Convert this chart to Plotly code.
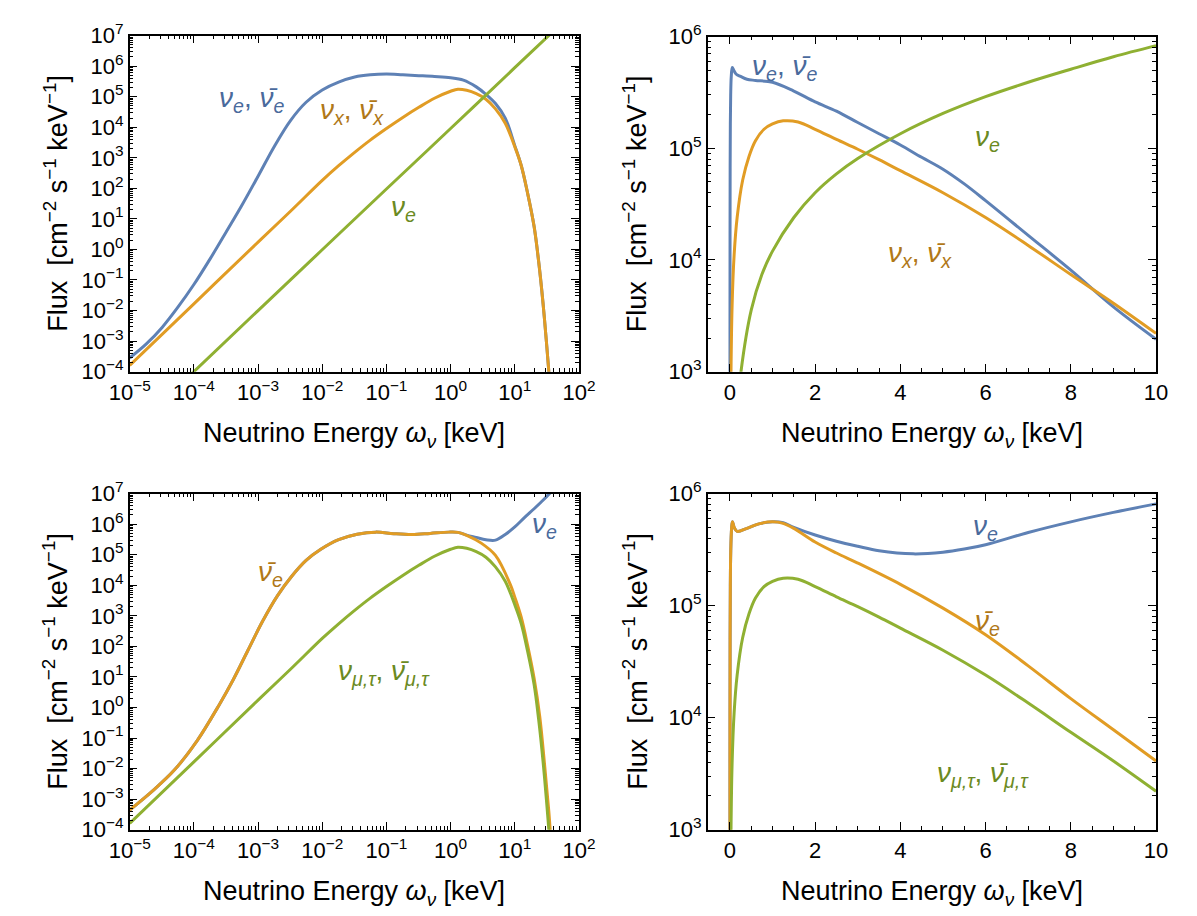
import plotly.graph_objects as go

# ---------------- data ----------------
# Top-left panel (log-log): nu_e + nubar_e (blue)
tl_blue_E = [1e-5, 1.8e-5, 3.2e-5, 5.6e-5, 1e-4, 1.8e-4, 3.2e-4, 5.6e-4, 1e-3, 1.8e-3, 3.2e-3, 5.6e-3,
             0.01, 0.018, 0.032, 0.056, 0.1, 0.18, 0.32, 0.56, 1.0, 1.58, 2.51, 3.55, 5.0, 7.1,
             10, 12.6, 15.8, 20, 23.4, 27.5, 31.6, 33.9, 36.3]
tl_blue_F = [2.8e-4, 7.9e-4, 2.8e-3, 1.26e-2, 7.1e-2, 0.5, 3.8, 28, 250, 2.4e3, 1.66e4, 6.6e4,
             1.66e5, 3.0e5, 4.4e5, 5.2e5, 5.5e5, 5.2e5, 4.9e5, 4.6e5, 4.2e5, 3.5e5, 2.1e5, 1.2e5, 6.0e4, 2.0e4,
             2.5e3, 560, 71, 5.6, 0.45, 1.8e-2, 6.3e-4, 1e-4, 1.6e-5]

# nu_x / nu_mu,tau on log axes (TL orange, BL green)
nux_log_E = [1e-5, 1e-4, 1e-3, 3.2e-3, 0.01, 0.018, 0.032, 0.056, 0.1, 0.18, 0.32, 0.56, 1.0, 1.3, 1.78,
             2.51, 3.55, 5.0, 7.1, 10, 12.6, 15.8, 20, 23.4, 27.5, 31.6, 33.9, 36.3]
nux_log_F = [1.6e-4, 1.66e-2, 1.74, 17.8, 182, 550, 1.51e3, 3.8e3, 9.1e3, 2.1e4, 4.5e4, 8.9e4, 1.51e5,
             1.76e5, 1.62e5, 1.26e5, 8.3e4, 4.0e4, 1.35e4, 2.3e3, 560, 71, 5.6, 0.45, 1.8e-2, 6.3e-4, 1e-4,
             1.6e-5]

# nu_e rising component (TL green)
tl_green_E = [8e-5, 1e-3, 1e-1, 1, 10, 40]
tl_green_F = [6.4e-5, 1e-2, 95, 9.1e3, 8.9e5, 1.4e7]

# Top-right panel (linear energy)
tr_blue_E = [0.001, 0.0018, 0.0032, 0.0056, 0.01, 0.018, 0.032, 0.056, 0.09, 0.15, 0.25, 0.4, 0.6, 1.0,
             1.5, 2, 2.5, 3, 3.5, 4, 4.5, 5, 5.5, 6, 7, 8, 9, 10]
tr_blue_F = [2.5e2, 2.4e3, 1.66e4, 6.6e4, 1.66e5, 3.0e5, 4.4e5, 5.3e5, 5.0e5, 4.6e5, 4.4e5, 4.15e5, 4.05e5, 3.9e5,
             3.25e5, 2.6e5, 2.15e5, 1.7e5, 1.35e5, 1.07e5, 8.3e4, 6.5e4, 4.8e4, 3.4e4, 1.66e4, 8.1e3, 3.8e3, 1.95e3]

nux_lin_E = [0.02, 0.05, 0.1, 0.17, 0.3, 0.45, 0.6, 0.8, 1.0, 1.25, 1.6, 2, 2.5, 3, 3.5, 4, 5, 6, 7, 8, 9, 10]
nux_lin_F = [5.9e2, 3.7e3, 1.12e4, 2.4e4, 5.2e4, 8.5e4, 1.17e5, 1.48e5, 1.65e5, 1.76e5, 1.72e5, 1.48e5,
             1.2e5, 9.8e4, 7.9e4, 6.3e4, 4.0e4, 2.4e4, 1.35e4, 7.4e3, 4.1e3, 2.2e3]

tr_green_E = [0.2, 0.26, 0.5, 0.75, 1.0, 1.5, 2, 2.5, 3, 4, 5, 6, 7, 8, 9, 10]
tr_green_F = [5.6e2, 1e3, 3.55e3, 7.4e3, 1.2e4, 2.4e4, 4.0e4, 5.9e4, 8.1e4, 1.35e5, 2.05e5, 2.9e5, 3.9e5,
              5.1e5, 6.6e5, 8.3e5]

# Bottom-left panel (log-log)
bl_orange_E = [1e-5, 2.3e-5, 5e-5, 1.12e-4, 2.45e-4, 4.1e-4, 6.9e-4, 1.17e-3, 2e-3, 3.3e-3, 5.6e-3, 9.5e-3,
               0.018, 0.035, 0.068, 0.13, 0.25, 0.48, 0.93, 1.3, 1.78, 3.0, 5.0, 8.5, 10, 12.6, 15.8, 20,
               24.5, 29.5, 33.9, 37]
bl_orange_F = [4.4e-4, 1.9e-3, 9.1e-3, 8.1e-2, 1.17, 8.1, 72, 650, 4.5e3, 1.9e4, 6.5e4, 1.5e5,
               3.1e5, 4.7e5, 5.5e5, 4.9e5, 4.6e5, 5.0e5, 5.5e5, 5.4e5, 4.3e5, 2.4e5, 9.5e4, 1.07e4, 4.1e3, 900,
               110, 9, 0.5, 1e-2, 4e-4, 3e-5]

bl_blue_E = [1.78, 2.5, 3.55, 5.0, 7.1, 10, 14, 20, 28, 36]
bl_blue_F = [4.4e5, 3.7e5, 3.1e5, 3.0e5, 4.6e5, 8.1e5, 1.6e6, 3.2e6, 6.3e6, 1.1e7]

# Bottom-right panel (linear energy)
br_blue_E = [0.001, 0.002, 0.005, 0.01, 0.02, 0.04, 0.06, 0.1, 0.17, 0.4, 0.7, 1.0, 1.25, 1.5,
             2, 2.5, 3, 3.5, 4.3, 5, 5.5, 6, 7, 8, 9, 10]
br_blue_F = [4e2, 4.5e3, 5e4, 1.5e5, 3.1e5, 4.9e5, 5.6e5, 5.0e5, 4.6e5, 4.9e5, 5.4e5, 5.6e5, 5.5e5, 5.0e5,
             4.27e5, 3.76e5, 3.39e5, 3.09e5, 2.9e5, 3.0e5, 3.2e5, 3.5e5, 4.5e5, 5.6e5, 6.8e5, 8.1e5]

br_orange_E = [0.001, 0.002, 0.005, 0.01, 0.02, 0.04, 0.06, 0.1, 0.17, 0.4, 0.7, 1.0, 1.25, 1.5,
               2, 2.5, 3, 4, 5, 6, 7, 8, 9, 10]
br_orange_F = [4e2, 4.5e3, 5e4, 1.5e5, 3.1e5, 4.9e5, 5.6e5, 5.0e5, 4.6e5, 4.9e5, 5.4e5, 5.6e5, 5.43e5, 4.9e5,
               3.7e5, 2.95e5, 2.4e5, 1.55e5, 9.5e4, 5.5e4, 2.9e4, 1.48e4, 7.8e3, 4.1e3]

# ---------------- styling ----------------
BLUE, ORANGE, GREEN = "#5E81B5", "#E19C24", "#8FB032"
BLUE_T, ORANGE_T, GREEN_T = "#4A6A9C", "#B07818", "#6B8A22"
FONT = "Liberation Sans, Arial, DejaVu Sans"

W, H = 1197, 916
# frame pixel boxes (left, right, top, bottom)
boxes = {1: (104, 568, 12, 359), 2: (701, 1164, 13, 359),
         3: (104, 568, 485, 832), 4: (701, 1164, 485, 832)}

fig = go.Figure()


def add(E, F, color, n):
    fig.add_trace(go.Scatter(x=E, y=F, mode="lines", xaxis="x%d" % n if n > 1 else "x",
                             yaxis="y%d" % n if n > 1 else "y",
                             line=dict(color=color, width=3, shape="spline", smoothing=1.0),
                             showlegend=False, hoverinfo="skip"))


add(tl_blue_E, tl_blue_F, BLUE, 1)
add(nux_log_E, nux_log_F, ORANGE, 1)
add(tl_green_E, tl_green_F, GREEN, 1)

add(tr_blue_E, tr_blue_F, BLUE, 2)
add(nux_lin_E, nux_lin_F, ORANGE, 2)
add(tr_green_E, tr_green_F, GREEN, 2)

k = bl_orange_E.index(1.3) + 1
add(bl_orange_E[:k] + bl_blue_E, bl_orange_F[:k] + bl_blue_F, BLUE, 3)
add(bl_orange_E, bl_orange_F, ORANGE, 3)
add(nux_log_E, nux_log_F, GREEN, 3)

add(br_blue_E, br_blue_F, BLUE, 4)
add(br_orange_E, br_orange_F, ORANGE, 4)
add(nux_lin_E, nux_lin_F, GREEN, 4)


def pw(k):
    return "10<sup>%s</sup>" % str(k).replace("-", "\u2212")


def log_axis(lo, hi, dom):
    return dict(type="log", range=[lo, hi], domain=dom,
                tickmode="array", tickvals=[10.0 ** k for k in range(lo, hi + 1)],
                ticktext=[pw(k) for k in range(lo, hi + 1)],
                minor=dict(tickmode="array",
                           tickvals=[m * 10.0 ** k for k in range(lo, hi) for m in range(2, 10)],
                           ticks="inside", ticklen=4, tickwidth=1, tickcolor="black", showgrid=False))


def lin_axis(dom):
    return dict(type="linear", range=[-0.52, 10], domain=dom, tickmode="array",
                tickvals=[0, 2, 4, 6, 8, 10], ticktext=["0", "2", "4", "6", "8", "10"],
                minor=dict(tickmode="linear", tick0=0, dtick=0.5, ticks="inside", ticklen=4,
                           tickwidth=1, tickcolor="black", showgrid=False))


common = dict(showline=True, linecolor="black", linewidth=1.5, mirror="allticks", ticks="inside",
              ticklen=8, tickwidth=1.3, tickcolor="black", showgrid=False, zeroline=False,
              tickfont=dict(family=FONT, size=22, color="black"))


def xd(n):
    l, r, t, b = boxes[n]
    return [l / W, r / W]


def yd(n):
    l, r, t, b = boxes[n]
    return [1 - b / H, 1 - t / H]


layout = dict(width=W, height=H, margin=dict(l=0, r=0, t=0, b=0),
              paper_bgcolor="white", plot_bgcolor="white", showlegend=False)
layout["xaxis"] = {**common, **log_axis(-5, 2, xd(1)), "anchor": "y"}
layout["yaxis"] = {**common, **log_axis(-4, 7, yd(1)), "anchor": "x"}
layout["xaxis2"] = {**common, **lin_axis(xd(2)), "anchor": "y2"}
layout["yaxis2"] = {**common, **log_axis(3, 6, yd(2)), "anchor": "x2"}
layout["xaxis3"] = {**common, **log_axis(-5, 2, xd(3)), "anchor": "y3"}
layout["yaxis3"] = {**common, **log_axis(-4, 7, yd(3)), "anchor": "x3"}
layout["xaxis4"] = {**common, **lin_axis(xd(4)), "anchor": "y4"}
layout["yaxis4"] = {**common, **log_axis(3, 6, yd(4)), "anchor": "x4"}
fig.update_layout(**layout)

XT = "Neutrino Energy <i>ω</i><sub><i>ν</i></sub> [keV]"
YT = "Flux\u00a0\u00a0[cm<sup>\u22122</sup> s<sup>\u22121</sup> keV<sup>\u22121</sup>]"
ann = []
for n, ycx in ((1, 424), (2, 424), (3, 897), (4, 897)):
    l, r, t, b = boxes[n]
    ann.append(dict(xref="paper", yref="paper", x=(l + r) / 2 / W, y=1 - ycx / H, text=XT,
                    showarrow=False, font=dict(family=FONT, size=27, color="black"),
                    xanchor="center", yanchor="middle"))
for n, xc in ((1, 27), (2, 626), (3, 27), (4, 626)):
    l, r, t, b = boxes[n]
    ann.append(dict(xref="paper", yref="paper", x=xc / W, y=1 - (t + b) / 2 / H, text=YT,
                    textangle=-90, showarrow=False, font=dict(family=FONT, size=27, color="black"),
                    xanchor="center", yanchor="middle"))

NB = "ν\u0304"
labels = [
    (1, -3.1, 4.9, "<i>ν</i><sub><i>e</i></sub>, <i>%s</i><sub><i>e</i></sub>" % NB, BLUE_T),
    (1, -1.53, 4.52, "<i>ν</i><sub><i>x</i></sub>, <i>%s</i><sub><i>x</i></sub>" % NB, ORANGE_T),
    (1, -0.73, 1.35, "<i>ν</i><sub><i>e</i></sub>", GREEN_T),
    (2, 1.27, 5.72, "<i>ν</i><sub><i>e</i></sub>, <i>%s</i><sub><i>e</i></sub>" % NB, BLUE_T),
    (2, 6.05, 5.09, "<i>ν</i><sub><i>e</i></sub>", GREEN_T),
    (2, 4.45, 4.05, "<i>ν</i><sub><i>x</i></sub>, <i>%s</i><sub><i>x</i></sub>" % NB, ORANGE_T),
    (3, -2.8, 4.37, "<i>%s</i><sub><i>e</i></sub>" % NB, ORANGE_T),
    (3, 1.46, 5.95, "<i>ν</i><sub><i>e</i></sub>", BLUE_T),
    (3, -1.03, 1.13, "<i>ν</i><sub><i>μ,τ</i></sub>, <i>%s</i><sub><i>μ,τ</i></sub>" % NB, GREEN_T),
    (4, 6.0, 5.70, "<i>ν</i><sub><i>e</i></sub>", BLUE_T),
    (4, 6.05, 4.85, "<i>%s</i><sub><i>e</i></sub>" % NB, ORANGE_T),
    (4, 5.93, 3.49, "<i>ν</i><sub><i>μ,τ</i></sub>, <i>%s</i><sub><i>μ,τ</i></sub>" % NB, GREEN_T),
]
for n, x, y, t, c in labels:
    s = "" if n == 1 else str(n)
    ann.append(dict(xref="x" + s, yref="y" + s, x=x, y=y, text=t, showarrow=False,
                    font=dict(family=FONT, size=28, color=c), xanchor="center", yanchor="middle"))
fig.update_layout(annotations=ann)

fig.write_html("out.html")
